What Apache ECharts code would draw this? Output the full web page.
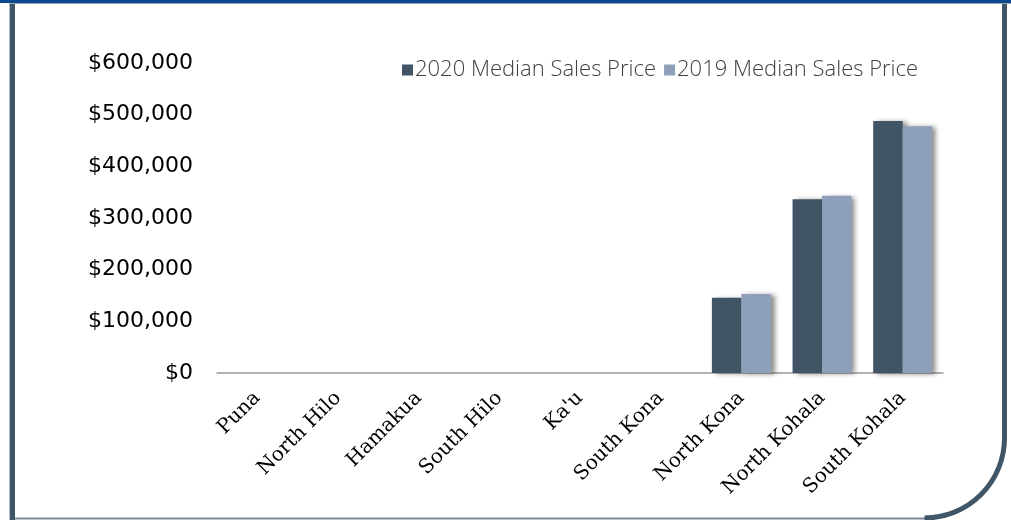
<!DOCTYPE html>
<html>
<head>
<meta charset="utf-8">
<script src="https://cdn.jsdelivr.net/npm/echarts@6/dist/echarts.min.js"></script>
<style>
  html, body { margin: 0; padding: 0; background: #fff; }
  #chart { width: 1011px; height: 520px; }
</style>
</head>
<body>
<div id="chart"></div>
<script>
// districts on the x axis
var districts = ['Puna', 'North Hilo', 'Hamakua', 'South Hilo', "Ka'u", 'South Kona', 'North Kona', 'North Kohala', 'South Kohala'];
// median sales price, blank where there is no data
var price2020 = [null, null, null, null, null, null, 145700, 336200, 487700];
var price2019 = [null, null, null, null, null, null, 152900, 343200, 477400];
var seriesNames = ['2020 Median Sales Price', '2019 Median Sales Price'];

var myChart = echarts.init(document.getElementById('chart'));

var barShadow = {
  shadowColor: 'rgba(0,0,0,0.45)',
  shadowBlur: 5,
  shadowOffsetX: 4,
  shadowOffsetY: 1
};

var option = {
  backgroundColor: '#fff',
  animation: false,
  legend: {
    top: 54,
    left: 397,
    itemWidth: 11,
    itemHeight: 11,
    itemGap: 8,
    icon: 'rect',
    textStyle: { fontFamily: 'Open Sans', fontWeight: 300, fontSize: 22, color: '#404040', padding: [0, 0, 0, -3] },
    data: seriesNames
  },
  grid: { left: 217, right: 68, top: 63, bottom: 147 },
  xAxis: {
    type: 'category',
    data: districts,
    axisLine: { lineStyle: { color: '#999', width: 1.5 } },
    axisTick: { show: false },
    axisLabel: {
      rotate: 45,
      interval: 0,
      margin: 22,
      fontFamily: 'DejaVu Serif',
      fontSize: 20,
      color: '#000'
    }
  },
  yAxis: {
    type: 'value',
    min: 0,
    max: 600000,
    interval: 100000,
    axisLine: { show: false },
    axisTick: { show: false },
    splitLine: { show: false },
    axisLabel: {
      margin: 24,
      fontFamily: 'DejaVu Sans',
      fontSize: 22,
      color: '#000',
      formatter: function (v) { return '$' + v.toLocaleString('en-US'); }
    }
  },
  series: [
    {
      name: seriesNames[0],
      type: 'bar',
      data: price2020,
      barGap: '0%',
      barCategoryGap: '27%',
      itemStyle: Object.assign({ color: '#405465' }, barShadow)
    },
    {
      name: seriesNames[1],
      type: 'bar',
      data: price2019,
      itemStyle: Object.assign({ color: '#8e9fba' }, barShadow)
    }
  ],
  graphic: [
    { type: 'rect', shape: { x: 0, y: 0, width: 1011, height: 3 }, style: { fill: '#0b4a8e' } },
    { type: 'rect', shape: { x: 9, y: 3, width: 1002, height: 1 }, style: { fill: '#9aa8b5' } },
    { type: 'rect', shape: { x: 9, y: 4, width: 1, height: 516 }, style: { fill: '#b4bec8' } },
    { type: 'rect', shape: { x: 10, y: 4, width: 5, height: 516 }, style: { fill: '#3f5568' } },
    { type: 'line', shape: { x1: 15, y1: 518.5, x2: 926, y2: 518.5 }, style: { stroke: '#7d8a96', lineWidth: 2 } },
    { type: 'line', shape: { x1: 1004.5, y1: 4, x2: 1004.5, y2: 438 }, style: { stroke: '#3f5568', lineWidth: 5 } },
    {
      type: 'arc',
      shape: { cx: 924.5, cy: 438, r: 80, startAngle: 0, endAngle: Math.PI / 2, clockwise: true },
      style: { fill: null, stroke: '#3f5568', lineWidth: 5 }
    }
  ]
};

myChart.setOption(option);
</script>
</body>
</html>
